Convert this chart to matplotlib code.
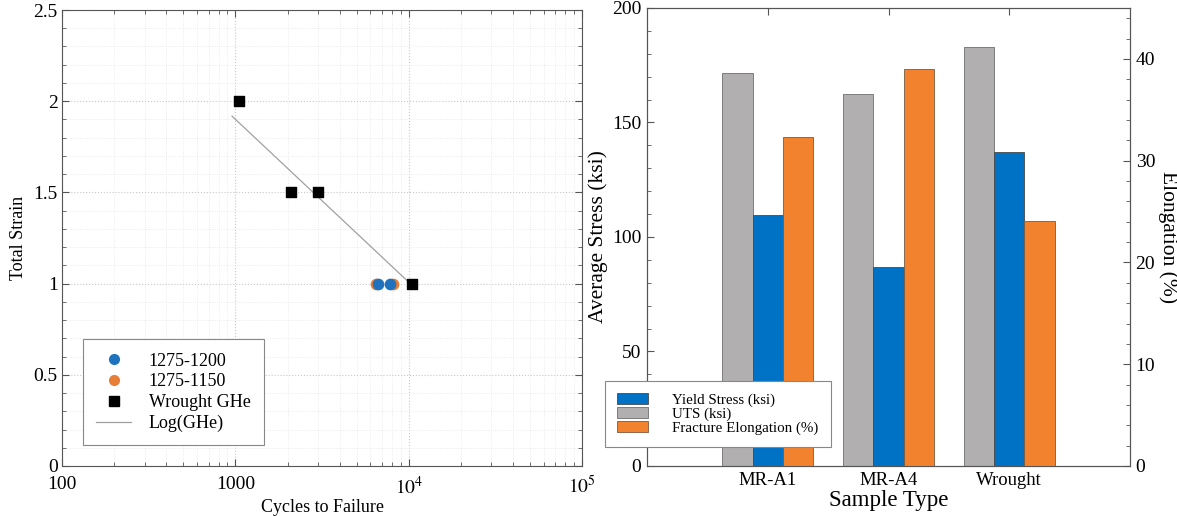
import numpy as np
import matplotlib.pyplot as plt
from matplotlib.ticker import MultipleLocator, LogLocator, NullFormatter
from matplotlib.patches import Patch
from matplotlib.lines import Line2D

plt.rcParams['font.family'] = ['Liberation Serif', 'DejaVu Serif']
plt.rcParams['mathtext.fontset'] = 'stix'

# fatigue data (left panel)
cycles_1200 = [6640, 7820]
strain_1200 = [1.0, 1.0]
cycles_1150 = [6470, 8150]
strain_1150 = [1.0, 1.0]
cycles_ghe = [1050, 2100, 2980, 10450]
strain_ghe = [2.0, 1.5, 1.5, 1.0]
fit_cycles = [957, 9820]
fit_strain = [1.918, 1.015]

# tensile data (right panel)
samples = ['MR-A1', 'MR-A4', 'Wrought']
yield_ksi = [109.6, 87.0, 137.0]
uts_ksi = [171.6, 162.4, 183.0]
elong_pct = [32.3, 39.0, 24.05]

c_blue = '#0072C6'
c_gray = '#B1AFAF'
c_orange = '#F3822F'

fig = plt.figure(figsize=(11.77, 5.16), dpi=100)

# ---- left: strain-life
ax1 = fig.add_axes([0.0527, 0.0969, 0.4418, 0.8837])
ax1.set_xscale('log')
ax1.plot(fit_cycles, fit_strain, color='#A0A0A0', lw=0.9, zorder=2)
ax1.scatter(cycles_1150, strain_1150, s=55, color='#E87D35', zorder=3)
ax1.scatter(cycles_1200, strain_1200, s=55, color='#1F73BE', zorder=4)
ax1.scatter(cycles_ghe, strain_ghe, s=60, marker='s', color='black', zorder=5)
ax1.set_xlim(100, 1e5)
ax1.set_ylim(0, 2.5)
ax1.set_xticks([100, 1000, 1e4, 1e5])
ax1.set_xticklabels(['100', '1000', r'$10^4$', r'$10^5$'])
ax1.xaxis.set_minor_locator(LogLocator(base=10, subs=np.arange(2, 10)))
ax1.xaxis.set_minor_formatter(NullFormatter())
ax1.set_yticks([0, 0.5, 1, 1.5, 2, 2.5])
ax1.set_yticklabels(['0', '0.5', '1', '1.5', '2', '2.5'])
ax1.yaxis.set_minor_locator(MultipleLocator(0.1))
ax1.grid(True, which='major', ls=':', color='#C8C8C8', lw=0.8)
ax1.grid(True, which='minor', ls=':', color='#E6E6E6', lw=0.6)
ax1.tick_params(which='both', direction='in', top=True, right=True, color='#555555')
ax1.tick_params(which='major', length=5, labelsize=14, pad=3)
ax1.tick_params(axis='x', pad=7)
ax1.tick_params(which='minor', length=3)
ax1.set_xlabel('Cycles to Failure', fontsize=13, labelpad=1)
ax1.set_ylabel('Total Strain', fontsize=13, labelpad=5)
for s in ax1.spines.values():
    s.set_color('#555555')

h1 = [Line2D([], [], ls='none', marker='o', ms=7, color='#1F73BE'),
      Line2D([], [], ls='none', marker='o', ms=7, color='#E87D35'),
      Line2D([], [], ls='none', marker='s', ms=7, color='black'),
      Line2D([], [], color='#A0A0A0', lw=0.9)]
leg1 = ax1.legend(h1, ['1275-1200', '1275-1150', 'Wrought GHe', 'Log(GHe)'],
                  loc='lower left', bbox_to_anchor=(0.04, 0.045), fontsize=13,
                  fancybox=False, edgecolor='#888888', framealpha=1,
                  borderpad=0.75, handlelength=1.9, handletextpad=1.0,
                  labelspacing=0.2, borderaxespad=0)
leg1.get_frame().set_linewidth(0.8)

# ---- right: tensile bars
ax2 = fig.add_axes([0.5497, 0.0969, 0.4104, 0.8876])
x = np.arange(1, len(samples) + 1)
w = 0.25
ax2.bar(x - w, uts_ksi, w, color=c_gray, edgecolor='#6E6E6E', lw=0.6, zorder=2)
ax2.bar(x, yield_ksi, w, color=c_blue, edgecolor='#4A4A4A', lw=0.6, zorder=2)
ax3 = ax2.twinx()
ax3.bar(x + w, elong_pct, w, color=c_orange, edgecolor='#7A5A40', lw=0.6, zorder=2)
ax2.set_xlim(0, 4)
ax2.set_ylim(0, 200)
ax3.set_ylim(0, 45)
ax2.set_xticks(x)
ax2.set_xticklabels(samples)
ax2.set_yticks([0, 50, 100, 150, 200])
ax2.yaxis.set_minor_locator(MultipleLocator(10))
ax3.set_yticks([0, 10, 20, 30, 40])
ax3.yaxis.set_minor_locator(MultipleLocator(2))
ax2.tick_params(which='both', direction='in', top=True, color='#555555')
ax2.tick_params(which='major', length=5, labelsize=14, pad=4)
ax2.tick_params(axis='x', labelsize=13.5)
ax2.tick_params(which='minor', length=3)
ax3.tick_params(which='both', direction='in', color='#555555')
ax3.tick_params(which='major', length=5, labelsize=14, pad=4)
ax3.tick_params(which='minor', length=3)
ax2.set_xlabel('Sample Type', fontsize=16.5, labelpad=1)
ax2.set_ylabel('Average Stress (ksi)', fontsize=15.5, labelpad=3)
ax3.set_ylabel('Elongation (%)', fontsize=15.5, rotation=270, labelpad=16)
for a in (ax2, ax3):
    for s in a.spines.values():
        s.set_color('#555555')

h2 = [Patch(facecolor=c_blue, edgecolor='#4A4A4A', lw=0.6),
      Patch(facecolor=c_gray, edgecolor='#6E6E6E', lw=0.6),
      Patch(facecolor=c_orange, edgecolor='#7A5A40', lw=0.6)]
leg2 = fig.legend(h2, ['Yield Stress (ksi)', 'UTS (ksi)', 'Fracture Elongation (%)'],
                  loc='lower left', bbox_to_anchor=(605 / 1177, (516 - 447) / 516),
                  fontsize=10.8, fancybox=False, edgecolor='#888888', framealpha=1,
                  borderpad=0.8, handlelength=2.1, handleheight=0.75,
                  handletextpad=1.6, labelspacing=0.0, borderaxespad=0)
leg2.get_frame().set_linewidth(0.8)
leg2.set_zorder(10)

fig.savefig('out.png', dpi=100)
